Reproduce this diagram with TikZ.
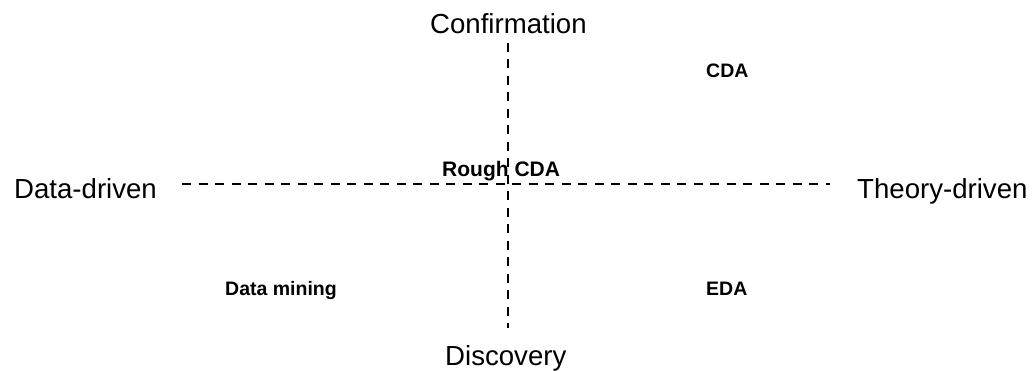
\documentclass[tikz,border=0pt]{standalone}
\usepackage{fontspec}
\setmainfont{Liberation Sans}
\tikzset{
  axislabel/.style={inner sep=0pt, anchor=base west, font=\fontsize{27.6}{33}\selectfont},
  quadlabel/.style={inner sep=0pt, anchor=base west, font=\bfseries\fontsize{19.5}{23}\selectfont},
  axisline/.style={line width=2.8pt, dash pattern=on 9pt off 7.5pt, black}
}
\begin{document}
\begin{tikzpicture}[x=1pt,y=-1pt]
\useasboundingbox (0,0) rectangle (1034,371);
\fill[white] (0,0) rectangle (1034,371);
\coordinate (top) at (508,43);
\coordinate (bottom) at (508,328);
\coordinate (left) at (182,184);
\coordinate (right) at (830,184);
\draw[axisline] (top) -- (bottom);
\draw[axisline] (left) -- (right);
\node[axislabel] (conf) at (430,34) {Confirmation};
\node[axislabel] (disc) at (445,366) {Discovery};
\node[axislabel] (data) at (14,199) {Data-driven};
\node[axislabel] (theory) at (857,199) {Theory-driven};
\node[quadlabel] (cda) at (706,78) {CDA};
\node[quadlabel, font=\bfseries\fontsize{21}{25}\selectfont] (rough) at (442,177) {Rough CDA};
\node[quadlabel] (mining) at (225,296) {Data mining};
\node[quadlabel] (eda) at (706,296) {EDA};
\end{tikzpicture}
\end{document}
